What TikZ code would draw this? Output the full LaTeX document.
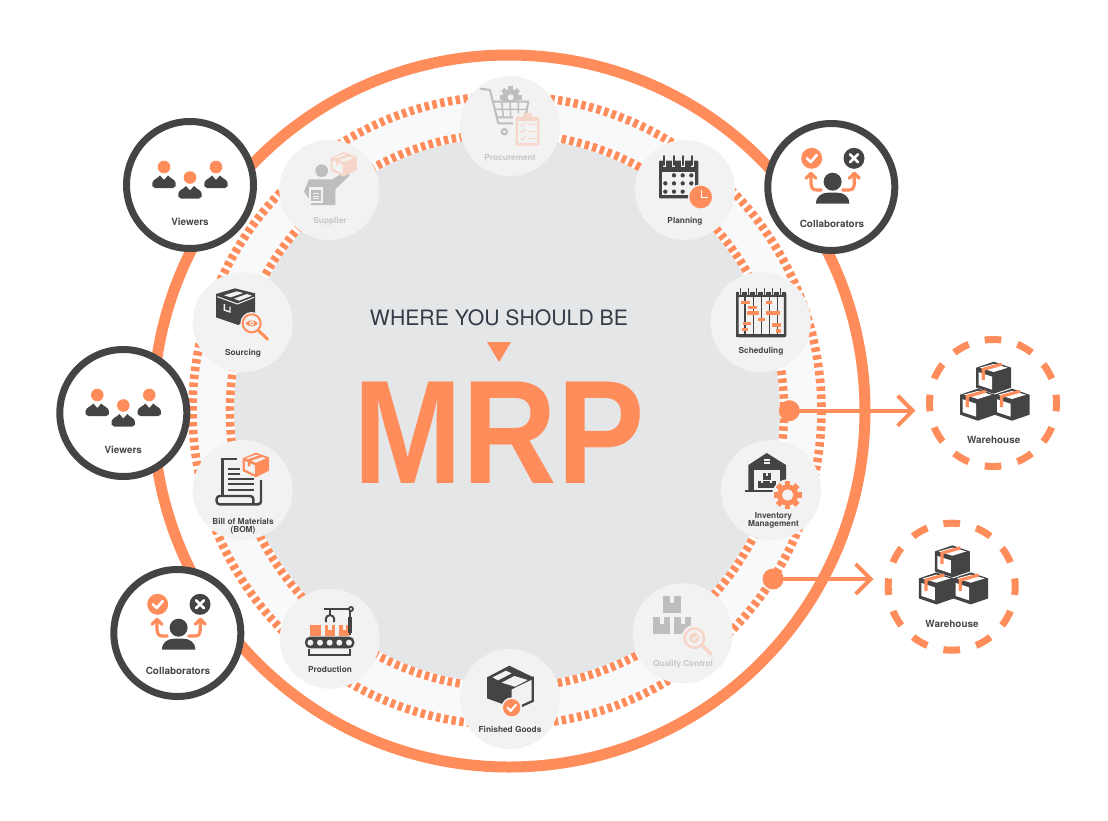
\documentclass[tikz,border=0pt]{standalone}
\usepackage{fontspec}
\usepackage{graphicx}
\usetikzlibrary{arrows.meta}
\setmainfont{TeX Gyre Heros}
\newfontfamily\mrpfont{Liberation Sans}
\definecolor{orangec}{HTML}{FF8D5C}
\definecolor{darkc}{HTML}{444444}
\definecolor{grayfill}{HTML}{E5E6E8}
\definecolor{bandc}{HTML}{F8F9FB}
\definecolor{iconbg}{HTML}{F2F2F3}
\definecolor{titlec}{HTML}{333B47}
\colorlet{icd}{darkc}
\colorlet{ico}{orangec}
\colorlet{ict}{darkc}
\newcommand{\fadedicons}{\colorlet{icd}{black!25!white!98!gray}\colorlet{ico}{orangec!28!iconbg}\colorlet{ict}{black!22}}
\newcommand{\drawgear}[6]{%
  \fill[#5] (#1,#2) circle ({#3*0.76});
  \foreach \a in {0,45,...,315}{\fill[#5,rotate around={\a:(#1,#2)}] ({#1-#3*0.2},{#2-#3}) rectangle ({#1+#3*0.2},#2);}
  \fill[#6] (#1,#2) circle (#4);}
\tikzset{
  zs/.style={x=0.33333pt,y=-0.33333pt},
  nodedisc/.style={circle,fill=iconbg,draw=none,minimum size=100pt,inner sep=0pt},
  peopledisc/.style={circle,fill=white,draw=darkc,line width=7pt,minimum size=127pt,inner sep=0pt},
  wdisc/.style={circle,draw=orangec,line width=7pt,minimum size=127pt,inner sep=0pt,dash pattern=on 16.6pt off 16.65pt,dash phase=8.3pt},
  dotc/.style={circle,fill=orangec,minimum size=21pt,inner sep=0pt},
  bigl/.style={font=\fontsize{9.9}{10}\selectfont\bfseries,text=darkc,inner sep=0pt},
  nlbl/.style={font=\fontsize{8.3}{7.9}\selectfont\bfseries,text=ict,inner sep=0pt,align=center},
  flow/.style={draw=orangec,line width=4pt,-{Straight Barb[length=15pt,width=30pt,line width=4pt]}},
  personicon/.pic={
    \fill[ico] (0,0) circle (6.3);
    \fill[icd] (-9,21) -- (9,21) .. controls (12,21) and (12,18) .. (11.7,16) .. controls (11,12) and (6,11.5) .. (4,8.5) -- (0,13) -- (-4,8.5) .. controls (-6,11.5) and (-11,12) .. (-11.7,16) .. controls (-12,18) and (-12,21) .. (-9,21) -- cycle;
  },
  viewersicon/.pic={
    \pic at (-26,-18) {personicon};
    \pic at (0,-7.5) {personicon};
    \pic at (26,-18) {personicon};
  },
  collabicon/.pic={
    \fill[orangec] (-19.6,-28.7) circle (10.5);
    \fill[darkc] (22.7,-28.7) circle (10.5);
    \draw[white,line width=2.6pt,line cap=round,line join=round] (-24.5,-28.7) -- (-20.5,-25) -- (-14.5,-32);
    \draw[white,line width=2.6pt,line cap=round] (18.7,-32.7) -- (26.7,-24.7) (26.7,-32.7) -- (18.7,-24.7);
    \draw[orangec,line width=3.2pt,line cap=round,line join=round] (-10,3) -- (-15,3) .. controls (-19,3) and (-20.3,0) .. (-20.3,-3) -- (-20.3,-13);
    \draw[orangec,line width=3.2pt,line cap=round,line join=round] (-25.3,-8.7) -- (-20.3,-13.7) -- (-15.3,-8.7);
    \draw[orangec,line width=3.2pt,line cap=round,line join=round] (11.5,3) -- (18,3) .. controls (22,3) and (23,0) .. (23,-3) -- (23,-13);
    \draw[orangec,line width=3.2pt,line cap=round,line join=round] (18,-8.7) -- (23,-13.7) -- (28,-8.7);
    \fill[darkc] (1.3,-5.3) circle (9);
    \fill[darkc] (-15.3,16.5) -- (18,16.5) .. controls (18,9) and (12,5.7) .. (6,5.7) -- (-3.5,5.7) .. controls (-9,5.7) and (-15.3,9) .. (-15.3,16.5) -- cycle;
  },
  cubeicon/.pic={
    \fill[darkc] (0,-16) -- (17.5,-10) -- (17.5,10) -- (0,16) -- (-17.5,10) -- (-17.5,-10) -- cycle;
    \fill[white] (-15,-5.5) -- (-1.5,-1) -- (-1.5,12) -- (-15,7.5) -- cycle;
    \fill[white] (-14,-10) -- (0,-13.8) -- (14,-10) -- (0,-5.7) -- cycle;
    \draw[orangec,line width=3.2pt] (-10.5,2.5) -- (-10.5,-8.3) -- (8,-13.5);
  },
  warehouseicon/.pic={
    \pic at (0.7,-25.3) {cubeicon};
    \pic at (-15.3,1.7) {cubeicon};
    \pic at (19,1.7) {cubeicon};
  },
  parcelicon/.pic={
    \fill[ico] (0,-37) -- (39.5,-23) -- (39.5,17) -- (0,37) -- (-39.5,18) -- (-39.5,-20) -- cycle;
    \fill[iconbg] (-33,-12) -- (-3,1) -- (-3,28) -- (-33,13) -- cycle;
    \fill[iconbg] (-30,-20) -- (0,-31) -- (30,-20) -- (0,-7) -- cycle;
    \draw[ico,line width=2.4pt] (-20,4) -- (-20,-15) -- (17,-27);
  },
}
\begin{document}
\begin{tikzpicture}[x=1pt,y=-1pt]
\useasboundingbox (0,0) rectangle (1108,820);
\fill[white] (0,0) rectangle (1108,820);
% rings
\draw[orangec,line width=11pt] (509,411) circle (356);
\fill[bandc] (507,410.5) circle (314.5);
\draw[white,line width=8.6pt] (507,410.5) circle (314.5);
\draw[orangec,line width=8.6pt,dash pattern=on 4.5pt off 3.404pt] (507,410.5) circle (314.5);
\fill[grayfill] (507,410.5) circle (277);
\draw[white,line width=8.6pt] (507,410.5) circle (277);
\draw[orangec,line width=8.6pt,dash pattern=on 4.5pt off 3.41pt] (507,410.5) circle (277);
\fill[grayfill] (507,410.5) circle (272.7);
% nodes
\node[nodedisc] (procurement) at (510,126) {};
\node[nodedisc] (planning) at (685,190) {};
\node[nodedisc] (scheduling) at (760.7,322.3) {};
\node[nodedisc] (inventory) at (771,490) {};
\node[nodedisc] (quality) at (682.7,633.3) {};
\node[nodedisc] (finished) at (510,699) {};
\node[nodedisc] (production) at (329.7,638.7) {};
\node[nodedisc] (bom) at (242.7,490) {};
\node[nodedisc] (sourcing) at (242.7,322.3) {};
\node[nodedisc] (supplier) at (329.3,190) {};
% labels of process nodes
\begin{scope}
\fadedicons
\node[nlbl] (procurementt) at (510,157.3) {Procurement};
\node[nlbl] (suppliert) at (330,221.3) {Supplier};
\node[nlbl] (qualityt) at (683,664.6) {Quality Control};
\end{scope}
\node[nlbl] (planningt) at (685,221.5) {Planning};
\node[nlbl] (schedulingt) at (761,351.8) {Scheduling};
\node[nlbl] (inventoryt) at (773.5,520) {Inventory\\Management};
\node[nlbl] (finishedt) at (510,729.8) {Finished Goods};
\node[nlbl] (productiont) at (330,669.8) {Production};
\node[nlbl] (bomt) at (243,526) {Bill of Materials\\(BOM)};
\node[nlbl] (sourcingt) at (243,353.8) {Sourcing};
% Procurement icon
\begin{scope}[shift={(450,60)},zs]
\fadedicons
\drawgear{182}{112}{33}{9}{icd}{iconbg}
\fill[iconbg] (125,122) rectangle (240,180);
\draw[icd,line width=2pt,line cap=round,line join=round] (92,86) -- (120,90) -- (145,190) -- (228,190);
\draw[icd,line width=2pt,line join=round] (128,125) -- (235,125) -- (226,172) -- (140,172);
\draw[icd,line width=1.6pt] (132,148) -- (230,148) (155,125) -- (160,172) (180,125) -- (182,172) (205,125) -- (205,172);
\draw[icd,line width=2pt] (163,215) circle (8);
\fill[iconbg] (190,160) rectangle (275,262);
\fill[ico,rounded corners=1.5pt] (197,170) rectangle (268,257);
\fill[ico] (220,160) rectangle (245,175);
\fill[iconbg] (205,182) rectangle (260,250);
\foreach \yy in {193,213,235}{
  \draw[ico,line width=1pt] (211,\yy) -- (216,\yy+5) -- (227,\yy-6);
  \draw[ico,line width=1pt] (234,\yy) -- (255,\yy);
}
\end{scope}
% Planning icon
\begin{scope}[shift={(450,60)},zs]
\fill[icd,rounded corners=1pt] (627,302) rectangle (745,415);
\fill[iconbg] (636,335) rectangle (736,406);
\foreach \xx in {643,671,699,727}{
  \draw[iconbg,line width=3.6pt] (\xx,287) -- (\xx,320);
  \draw[icd,line width=2pt,line cap=round] (\xx,288) -- (\xx,315);
}
\foreach \xx in {672,698,724}{\fill[icd] (\xx,346) circle (6.5);}
\foreach \xx in {646,672,698,724}{\fill[icd] (\xx,370) circle (6.5);}
\foreach \xx in {646,672,698}{\fill[icd] (\xx,395) circle (6.5);}
\fill[iconbg] (752,411) circle (38);
\fill[ico] (752,411) circle (34);
\draw[white,line width=1.6pt] (754,390) -- (754,412) -- (775,412);
\end{scope}
% Scheduling icon
\begin{scope}[shift={(700,110)},zs]
\draw[icd,line width=2.5pt,rounded corners=1pt] (112,552) rectangle (255,678);
\fill[icd] (108,547) rectangle (258,560);
\fill[icd] (108,672) rectangle (258,682);
\foreach \xx in {135,160,184,208,233}{\draw[icd,line width=1.5pt] (\xx,560) -- (\xx,672);}
\foreach \xx in {122,146,170,194,218,242}{
  \draw[iconbg,line width=3pt] (\xx,533) -- (\xx,556);
  \draw[icd,line width=1.6pt,line cap=round] (\xx,536) -- (\xx,555);
}
\foreach \xa/\ya/\xb/\yb in {122/572/150/582,145/587/172/597,140/604/177/615,173/623/196/633,197/572/217/582,197/604/239/615,128/636/152/646,127/654/144/664,216/640/244/650,227/658/244/668}{
  \fill[ico] (\xa,\ya) rectangle (\xb,\yb);
}
\end{scope}
% Inventory icon
\begin{scope}[shift={(710,330)},zs]
\fill[icd] (115,405) -- (170,369) -- (228,405) -- (228,485) -- (115,485) -- cycle;
\fill[icd] (105,479) rectangle (195,486);
\fill[iconbg] (133,412) rectangle (210,479);
\fill[icd] (133,412) rectangle (210,420);
\fill[iconbg] (162,387) rectangle (180,392);
\fill[iconbg] (162,397) rectangle (180,402);
\fill[icd] (158,428) rectangle (184,450);
\fill[iconbg] (168,428) rectangle (174,438);
\fill[icd] (145,452) rectangle (170,475);
\fill[iconbg] (154,452) rectangle (160,460);
\fill[icd] (172,452) rectangle (197,475);
\fill[iconbg] (181,452) rectangle (187,460);
\fill[iconbg] (233,495) circle (47);
\drawgear{233}{495}{42}{17}{ico}{iconbg}
\end{scope}
% Quality Control icon
\begin{scope}[shift={(270,570)},zs]
\fadedicons
\fill[icd] (1180,78) rectangle (1232,130);
\fill[iconbg] (1200,78) rectangle (1212,100);
\fill[icd] (1149,140) rectangle (1200,191);
\fill[iconbg] (1169,140) rectangle (1181,162);
\fill[icd] (1212,140) rectangle (1263,191);
\fill[iconbg] (1232,140) rectangle (1244,162);
\fill[iconbg] (1273,204) circle (39);
\draw[ico,line width=2.6pt] (1273,204) circle (29);
\fill[ico] (1273,204) circle (16);
\draw[iconbg,line width=1.2pt] (1265,204) -- (1271,210) -- (1282,197);
\draw[ico,line width=3.6pt,line cap=round] (1296,226) -- (1323,252);
\end{scope}
% Finished goods icon
\begin{scope}[shift={(270,570)},zs]
\fill[icd] (651,322) -- (718,287) -- (790,322) -- (725,358) -- (725,412) -- (651,385) -- cycle;
\draw[icd,line width=2.2pt] (725,354) -- (788,324) -- (788,393) -- (755,408);
\fill[iconbg] (668,322) -- (708,302) -- (725,310) -- (684,331) -- cycle;
\fill[iconbg] (695,338) -- (733,318) -- (773,330) -- (735,350) -- cycle;
\fill[iconbg] (725,413) circle (31);
\fill[ico] (725,413) circle (26);
\draw[white,line width=2pt,line cap=round,line join=round] (713,413) -- (722,423) -- (738,404);
\end{scope}
% Production icon
\begin{scope}[shift={(270,570)},zs]
\fill[icd,rounded corners=5pt] (105,200) rectangle (253,235);
\foreach \xx in {121,150,179,208,237}{\fill[iconbg] (\xx,218) circle (9);}
\draw[icd,line width=2.2pt] (118,238) -- (118,254) -- (240,254) -- (240,238);
\fill[ico] (120,165) rectangle (152,197);
\fill[ico] (164,165) rectangle (195,197);
\fill[iconbg] (174,165) rectangle (185,180);
\fill[ico] (207,165) rectangle (238,197);
\fill[iconbg] (218,165) rectangle (228,180);
\draw[icd,line width=2.2pt] (163,117) -- (240,117);
\draw[icd,line width=2pt] (180,117) -- (180,135);
\draw[icd,line width=2pt,line cap=round] (168,155) .. controls (165,140) and (175,135) .. (180,135) .. controls (185,135) and (195,140) .. (192,155);
\draw[icd,line width=1.8pt] (241,117) -- (241,195);
\fill[icd] (235,140) rectangle (247,190);
\fill[icd] (243,117) circle (9);
\fill[iconbg] (243,117) circle (3.5);
\end{scope}
% BOM icon
\begin{scope}[shift={(50,340)},zs]
\draw[icd,line width=2.4pt] (560,357) -- (518,357) -- (518,468);
\draw[icd,line width=2.4pt,rounded corners=3pt] (633,420) -- (633,493) -- (500,493) -- (500,468) -- (610,468) -- (610,493);
\foreach \xa/\xb/\yy in {535/570/387,535/570/402,535/612/418,535/612/433,535/612/449}{
  \draw[icd,line width=1.8pt] (\xa,\yy) -- (\xb,\yy);
}
\pic at (617.5,375) {parcelicon};
\end{scope}
% Sourcing icon
\begin{scope}[shift={(110,110)},zs]
\fill[icd] (318,552) -- (375,535) -- (435,550) -- (435,615) -- (385,645) -- (318,622) -- cycle;
\fill[iconbg] (342,556) -- (380,544) -- (400,549) -- (362,562) -- cycle;
\fill[iconbg] (372,566) -- (410,552) -- (426,557) -- (388,572) -- cycle;
\draw[iconbg,line width=1pt] (322,560) -- (382,582) -- (432,562);
\draw[iconbg,line width=1.4pt] (343,582) -- (343,600) -- (360,606) -- (360,590);
\fill[iconbg] (425,640) circle (34);
\draw[ico,line width=2pt] (425,640) circle (27);
\draw[ico,line width=3pt,line cap=round] (446,662) -- (473,688);
\fill[ico] (406,640) .. controls (415,628) and (435,628) .. (444,640) .. controls (435,652) and (415,652) .. (406,640) -- cycle;
\fill[iconbg] (425,640) circle (7);
\fill[ico] (425,640) circle (3.5);
\end{scope}
% Supplier icon
\begin{scope}[shift={(110,110)},zs]
\fadedicons
\fill[icd] (635,182) circle (19);
\fill[icd] (597,208) -- (668,208) -- (703,186) -- (720,195) -- (676,238) -- (676,285) -- (603,285) -- (603,275) -- (582,245) -- cycle;
\fill[iconbg] (596,232) rectangle (640,278);
\fill[icd] (602,240) rectangle (634,274);
\fill[iconbg] (608,248) rectangle (628,252);
\fill[iconbg] (608,257) rectangle (628,260);
\fill[iconbg] (608,265) rectangle (628,268);
\pic at (701,163) {parcelicon};
\end{scope}
% centre
\node[anchor=base,inner sep=0pt,text=titlec,font=\fontsize{22.5}{24}\selectfont] (title) at (499,325) {\resizebox{258pt}{!}{WHERE YOU SHOULD BE}};
\fill[orangec] (487,342) -- (511,342) -- (499,362) -- cycle;
\node[anchor=base,inner sep=0pt,text=orangec,font=\mrpfont\fontsize{141}{141}\selectfont\bfseries] (mrp) at (499,483) {\resizebox{291pt}{101.5pt}{MRP}};
% people discs
\node[peopledisc] (viewersa) at (190,185) {};
\pic at (190,185) {viewersicon};
\node[bigl] (viewersat) at (190,222) {Viewers};
\node[peopledisc] (viewersb) at (123.3,413) {};
\pic at (123.3,413) {viewersicon};
\node[bigl] (viewersbt) at (123.3,450.3) {Viewers};
\node[peopledisc] (collaba) at (831.3,187) {};
\pic at (831.3,187) {collabicon};
\node[bigl] (collabat) at (832,224.3) {Collaborators};
\node[peopledisc] (collabb) at (177.3,633) {};
\pic at (177.3,633) {collabicon};
\node[bigl] (collabbt) at (178,670.7) {Collaborators};
% warehouses
\node[wdisc] (wha) at (993,403) {};
\pic at (993,403) {warehouseicon};
\node[bigl] (what) at (993.7,440.3) {Warehouse};
\node[wdisc] (whb) at (951.7,586.7) {};
\pic at (951.7,586.7) {warehouseicon};
\node[bigl] (whbt) at (952,624.3) {Warehouse};
% connectors
\node[dotc] (dota) at (789.3,410.7) {};
\node[dotc] (dotb) at (773,579) {};
\coordinate (tipa) at (915.5,410.7);
\coordinate (tipb) at (873.5,579);
\draw[flow] (dota.center) -- (tipa);
\draw[flow] (dotb.center) -- (tipb);
\end{tikzpicture}
\end{document}
